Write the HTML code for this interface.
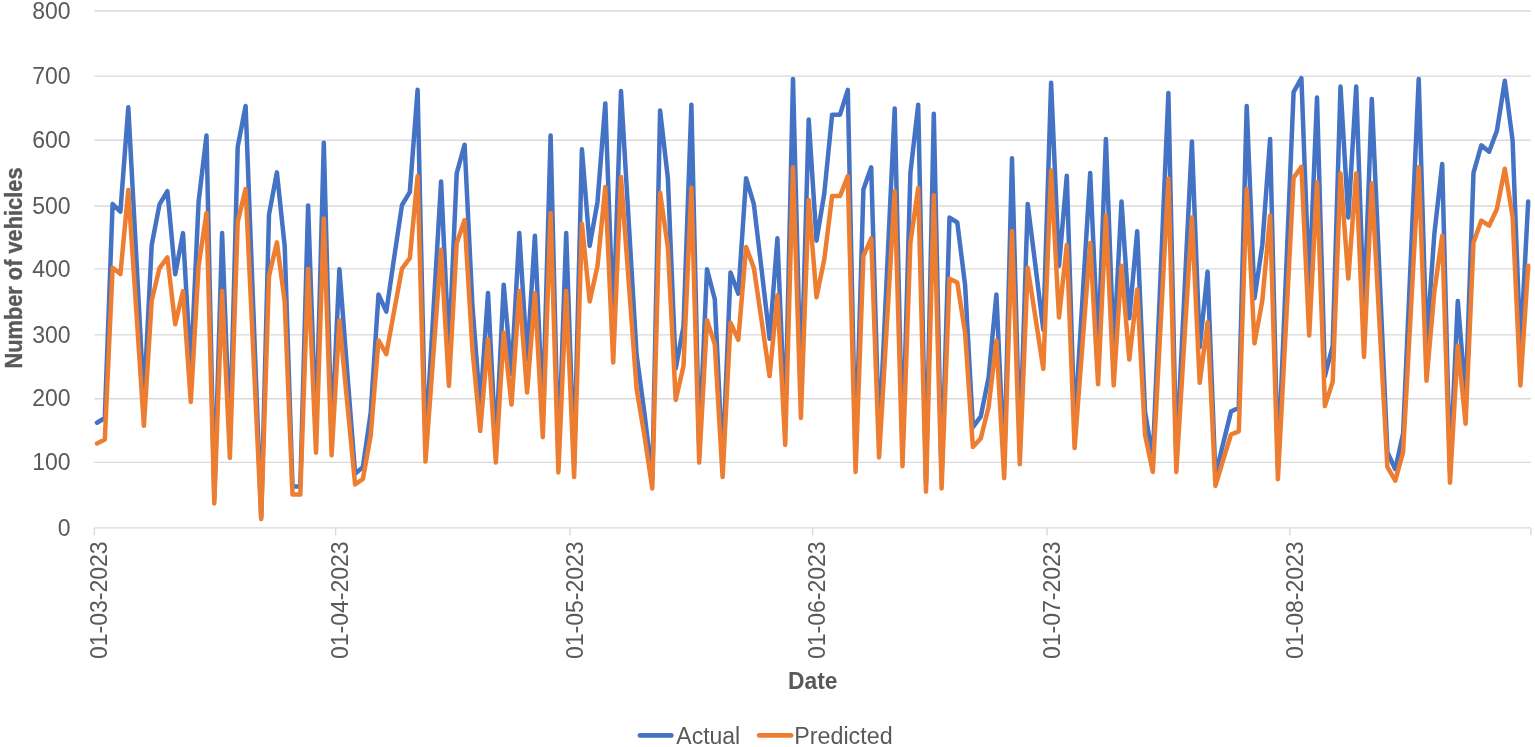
<!DOCTYPE html>
<html><head><meta charset="utf-8"><style>
html,body{margin:0;padding:0;background:#fff;}
svg{display:block;}
text{font-family:"Liberation Sans",Arial,sans-serif;fill:#595959;font-size:23px;}
.b{font-weight:bold;}
</style></head><body>
<svg width="1535" height="747" viewBox="0 0 1535 747">
<rect width="1535" height="747" fill="#fff"/>
<g stroke="#d9d9d9" stroke-width="1.4" fill="none"><line x1="94.3" x2="1530.9" y1="462.4" y2="462.4"/><line x1="94.3" x2="1530.9" y1="398.7" y2="398.7"/><line x1="94.3" x2="1530.9" y1="334.9" y2="334.9"/><line x1="94.3" x2="1530.9" y1="268.9" y2="268.9"/><line x1="94.3" x2="1530.9" y1="206.0" y2="206.0"/><line x1="94.3" x2="1530.9" y1="140.2" y2="140.2"/><line x1="94.3" x2="1530.9" y1="76.1" y2="76.1"/><line x1="94.3" x2="1530.9" y1="11.0" y2="11.0"/><line x1="94.3" x2="1530.9" y1="527.9" y2="527.9"/><line x1="94.3" x2="94.3" y1="527.9" y2="535.3"/><line x1="335.6" x2="335.6" y1="527.9" y2="535.3"/><line x1="569.9" x2="569.9" y1="527.9" y2="535.3"/><line x1="812.6" x2="812.6" y1="527.9" y2="535.3"/><line x1="1047.0" x2="1047.0" y1="527.9" y2="535.3"/><line x1="1289.8" x2="1289.8" y1="527.9" y2="535.3"/><line x1="1530.9" x2="1530.9" y1="527.9" y2="535.3"/></g>
<g fill="none" stroke-width="4.5" stroke-linejoin="round" stroke-linecap="round">
<polyline stroke="#4472C4" points="97.0,422.7 104.8,418.0 112.6,204.1 120.4,211.7 128.3,107.3 136.1,253.4 143.9,400.8 151.7,245.0 159.5,204.4 167.4,191.2 175.2,274.3 183.0,233.1 190.8,371.1 198.6,201.8 206.5,135.6 214.3,497.6 222.1,233.1 229.9,440.8 237.7,146.9 245.6,106.0 253.4,311.5 261.2,517.0 269.0,214.7 276.9,172.4 284.7,246.3 292.5,486.4 300.3,486.4 308.1,205.4 316.0,434.3 323.8,142.7 331.6,437.6 339.4,269.2 347.2,371.5 355.1,473.7 362.9,467.1 370.7,412.8 378.5,294.4 386.3,311.7 394.2,257.3 402.0,205.0 409.8,192.1 417.6,89.8 425.5,445.3 433.3,313.5 441.1,181.5 448.9,351.1 456.7,173.4 464.6,144.7 472.4,305.1 480.2,407.2 488.0,293.1 495.8,446.6 503.7,284.7 511.5,374.3 519.3,233.1 527.1,359.5 534.9,235.7 542.8,415.0 550.6,135.6 558.4,458.9 566.2,233.1 574.1,464.7 581.9,149.2 589.7,245.9 597.5,201.8 605.3,103.4 613.2,322.0 621.0,91.1 628.8,223.1 636.6,354.8 644.4,412.8 652.3,478.9 660.1,110.5 667.9,178.6 675.7,368.5 683.5,326.4 691.4,104.7 699.2,446.6 707.0,269.2 714.8,299.3 722.6,464.7 730.5,272.5 738.3,293.6 746.1,178.2 753.9,204.4 761.8,271.5 769.6,338.8 777.4,238.3 785.2,424.7 793.0,78.9 800.9,391.1 808.7,119.5 816.5,240.7 824.3,193.4 832.1,114.7 840.0,114.7 847.8,89.8 855.6,458.2 863.4,189.5 871.2,167.3 879.1,440.1 886.9,274.1 894.7,108.5 902.5,451.1 910.4,172.8 918.2,104.7 926.0,482.7 933.8,113.7 941.6,478.9 949.5,217.6 957.3,222.5 965.1,285.1 972.9,427.2 980.7,416.7 988.6,377.4 996.4,294.4 1004.2,466.0 1012.0,158.2 1019.8,448.5 1027.7,204.1 1035.5,266.3 1043.3,329.8 1051.1,82.7 1059.0,265.9 1066.8,175.7 1074.6,428.5 1082.4,300.5 1090.2,173.1 1098.1,349.1 1105.9,138.9 1113.7,350.4 1121.5,201.5 1129.3,318.2 1137.2,231.2 1145.0,411.6 1152.8,458.2 1160.6,275.4 1168.4,93.1 1176.3,458.2 1184.1,299.9 1191.9,141.5 1199.7,347.2 1207.6,271.8 1215.4,475.6 1223.2,443.2 1231.0,411.6 1238.8,407.7 1246.7,106.0 1254.5,298.2 1262.3,245.0 1270.1,138.9 1277.9,467.3 1285.8,279.9 1293.6,92.1 1301.4,78.2 1309.2,288.5 1317.0,97.6 1324.9,376.3 1332.7,345.7 1340.5,86.6 1348.3,217.5 1356.2,86.6 1364.0,314.9 1371.8,98.9 1379.6,276.0 1387.4,452.2 1395.3,469.2 1403.1,433.5 1410.9,256.7 1418.7,78.9 1426.5,344.6 1434.4,233.4 1442.2,164.0 1450.0,471.8 1457.8,300.9 1465.6,398.2 1473.5,172.8 1481.3,145.3 1489.1,151.7 1496.9,130.8 1504.8,80.8 1512.6,140.5 1520.4,350.4 1528.2,201.5"/>
<polyline stroke="#ED7D31" points="97.0,443.4 104.8,439.6 112.6,267.8 120.4,274.0 128.3,190.1 136.1,307.5 143.9,425.8 151.7,300.7 159.5,268.1 167.4,257.4 175.2,324.2 183.0,291.1 190.8,401.9 198.6,266.0 206.5,212.9 214.3,503.5 222.1,291.1 229.9,457.9 237.7,221.9 245.6,189.0 253.4,354.1 261.2,519.1 269.0,276.3 276.9,242.4 284.7,301.8 292.5,494.6 300.3,494.6 308.1,268.9 316.0,452.7 323.8,218.6 331.6,455.3 339.4,320.2 347.2,402.3 355.1,484.4 362.9,479.0 370.7,435.5 378.5,340.4 386.3,354.2 394.2,310.6 402.0,268.6 409.8,258.2 417.6,176.1 425.5,461.6 433.3,355.7 441.1,249.7 448.9,385.9 456.7,243.2 464.6,220.1 472.4,349.0 480.2,431.0 488.0,339.3 495.8,462.6 503.7,332.6 511.5,404.5 519.3,291.1 527.1,392.6 534.9,293.2 542.8,437.2 550.6,212.9 558.4,472.4 566.2,291.1 574.1,477.1 581.9,223.7 589.7,301.4 597.5,266.0 605.3,187.0 613.2,362.6 621.0,177.1 628.8,283.1 636.6,388.8 644.4,435.5 652.3,488.5 660.1,192.7 667.9,247.4 675.7,399.9 683.5,366.1 691.4,188.0 699.2,462.6 707.0,320.2 714.8,344.2 722.6,477.1 730.5,322.8 738.3,339.8 746.1,247.1 753.9,268.1 761.8,322.0 769.6,376.1 777.4,295.3 785.2,445.0 793.0,167.3 800.9,418.0 808.7,199.9 816.5,297.3 824.3,259.2 832.1,196.1 840.0,196.1 847.8,176.1 855.6,471.9 863.4,256.1 871.2,238.3 879.1,457.4 886.9,324.0 894.7,191.2 902.5,466.2 910.4,242.7 918.2,188.0 926.0,491.6 933.8,195.3 941.6,488.5 949.5,278.7 957.3,282.6 965.1,332.9 972.9,447.1 980.7,438.6 988.6,407.0 996.4,340.4 1004.2,478.2 1012.0,231.0 1019.8,464.2 1027.7,267.8 1035.5,317.8 1043.3,368.8 1051.1,170.4 1059.0,317.5 1066.8,245.0 1074.6,448.1 1082.4,345.3 1090.2,243.0 1098.1,384.3 1105.9,215.5 1113.7,385.4 1121.5,265.8 1129.3,359.5 1137.2,289.6 1145.0,434.5 1152.8,471.9 1160.6,325.1 1168.4,178.7 1176.3,471.9 1184.1,344.8 1191.9,217.6 1199.7,382.8 1207.6,322.2 1215.4,485.9 1223.2,459.8 1231.0,434.5 1238.8,431.3 1246.7,189.0 1254.5,343.4 1262.3,300.7 1270.1,215.5 1277.9,479.2 1285.8,328.7 1293.6,177.9 1301.4,166.8 1309.2,335.6 1317.0,182.3 1324.9,406.1 1332.7,381.6 1340.5,173.5 1348.3,278.6 1356.2,173.5 1364.0,356.9 1371.8,183.3 1379.6,325.6 1387.4,467.1 1395.3,480.7 1403.1,452.1 1410.9,310.0 1418.7,167.3 1426.5,380.7 1434.4,291.4 1442.2,235.7 1450.0,482.8 1457.8,345.5 1465.6,423.7 1473.5,242.7 1481.3,220.6 1489.1,225.7 1496.9,209.0 1504.8,168.8 1512.6,216.8 1520.4,385.4 1528.2,265.8"/>
</g>
<text x="70.5" y="535.5" text-anchor="end">0</text><text x="70.5" y="470.0" text-anchor="end">100</text><text x="70.5" y="406.3" text-anchor="end">200</text><text x="70.5" y="342.5" text-anchor="end">300</text><text x="70.5" y="276.5" text-anchor="end">400</text><text x="70.5" y="213.6" text-anchor="end">500</text><text x="70.5" y="147.8" text-anchor="end">600</text><text x="70.5" y="83.7" text-anchor="end">700</text><text x="70.5" y="18.6" text-anchor="end">800</text>
<text transform="translate(107.1,659) rotate(-90)">01-03-2023</text><text transform="translate(348.4,659) rotate(-90)">01-04-2023</text><text transform="translate(582.7,659) rotate(-90)">01-05-2023</text><text transform="translate(825.4,659) rotate(-90)">01-06-2023</text><text transform="translate(1059.8,659) rotate(-90)">01-07-2023</text><text transform="translate(1302.6,659) rotate(-90)">01-08-2023</text>
<text class="b" transform="translate(21.6,268) rotate(-90)" text-anchor="middle" style="font-size:23.5px" textLength="201" lengthAdjust="spacingAndGlyphs" stroke="#595959" stroke-width="0.35">Number of vehicles</text>
<text class="b" x="812.8" y="689" text-anchor="middle" textLength="49.5" lengthAdjust="spacingAndGlyphs">Date</text>
<line x1="640.0" x2="671.3" y1="735.4" y2="735.4" stroke="#4472C4" stroke-width="4.8" stroke-linecap="round"/>
<text x="676.3" y="743.8">Actual</text>
<line x1="759.2" x2="791.1" y1="735.4" y2="735.4" stroke="#ED7D31" stroke-width="4.8" stroke-linecap="round"/>
<text x="794.2" y="743.8" textLength="98.5" lengthAdjust="spacingAndGlyphs">Predicted</text>
</svg>
</body></html>
